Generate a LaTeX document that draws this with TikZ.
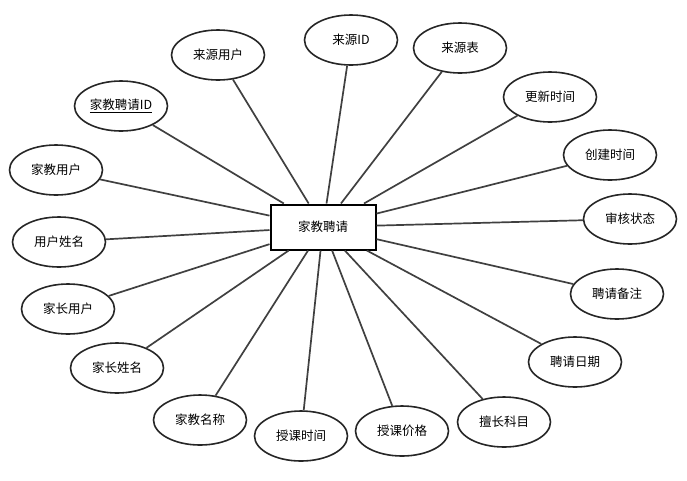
\documentclass[tikz,border=0pt]{standalone}
\usepackage{fontspec}
\newfontfamily\cjk{Noto Sans CJK SC}
\usetikzlibrary{shapes.geometric}

\begin{document}
\begin{tikzpicture}[
  x=1pt, y=-1pt,
  entity/.style={
    rectangle,
    draw=black,
    line width=2pt,
    minimum width=105pt,
    minimum height=45pt,
    fill=white,
    font=\cjk\fontsize{12.5}{14}\selectfont
  },
  attr/.style={
    ellipse,
    draw=black!85,
    line width=1.6pt,
    minimum width=93pt,
    minimum height=50pt,
    inner sep=0pt,
    fill=white,
    font=\cjk\fontsize{12.5}{14}\selectfont
  },
  link/.style={line width=1.7pt, draw=black!75}
]
\useasboundingbox (0,0) rectangle (687,480);

\node[entity] (hire) at (323,227) {家教聘请};

\node[attr] (srcuser) at (218,55) {来源用户};
\node[attr] (srcid) at (351,40) {来源ID};
\node[attr] (srctable) at (460,48) {来源表};
\node[attr] (updtime) at (550,97) {更新时间};
\node[attr] (crttime) at (610,155) {创建时间};
\node[attr] (audit) at (630,219) {审核状态};
\node[attr] (remark) at (617,294) {聘请备注};
\node[attr] (hiredate) at (575,362) {聘请日期};
\node[attr] (subject) at (504,422) {擅长科目};
\node[attr] (price) at (402,431) {授课价格};
\node[attr] (lesson) at (301,436) {授课时间};
\node[attr] (tutorname) at (200,420) {家教名称};
\node[attr] (parentname) at (117,368) {家长姓名};
\node[attr] (parentuser) at (68,309) {家长用户};
\node[attr] (username) at (59,242) {用户姓名};
\node[attr] (tutoruser) at (56,170) {家教用户};
\node[attr] (hireid) at (121,106) {\underline{家教聘请ID}};

\draw[link] (hire) -- (srcuser);
\draw[link] (hire) -- (srcid);
\draw[link] (hire) -- (srctable);
\draw[link] (hire) -- (updtime);
\draw[link] (hire) -- (crttime);
\draw[link] (hire) -- (audit);
\draw[link] (hire) -- (remark);
\draw[link] (hire) -- (hiredate);
\draw[link] (hire) -- (subject);
\draw[link] (hire) -- (price);
\draw[link] (hire) -- (lesson);
\draw[link] (hire) -- (tutorname);
\draw[link] (hire) -- (parentname);
\draw[link] (hire) -- (parentuser);
\draw[link] (hire) -- (username);
\draw[link] (hire) -- (tutoruser);
\draw[link] (hire) -- (hireid);

\end{tikzpicture}
\end{document}
